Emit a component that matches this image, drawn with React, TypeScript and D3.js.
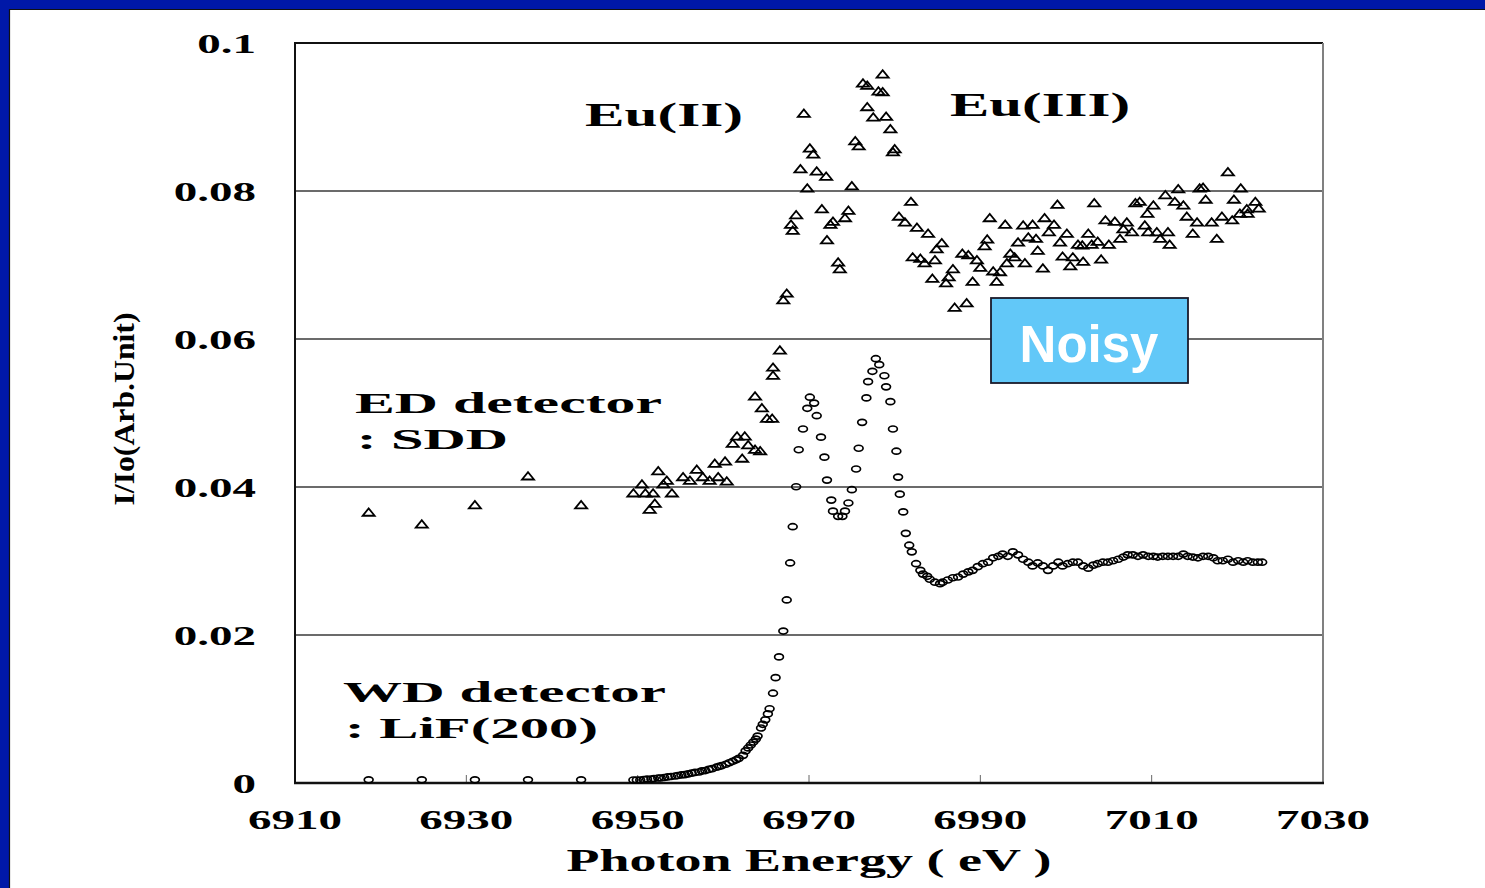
import React from "react";
import * as d3 from "d3";

// ---- Data ----
const xTicks = [6910, 6930, 6950, 6970, 6990, 7010, 7030];
const yTicks = [0, 0.02, 0.04, 0.06, 0.08, 0.1];
const yTickLabels = ["0", "0.02", "0.04", "0.06", "0.08", "0.1"];

// ED detector : SDD (triangles) [energy eV, I/Io]
const sddPoints: [number, number][] = [
  [6918.6, 0.0366], [6924.8, 0.035], [6931.0, 0.0376], [6937.2, 0.0415], [6943.4, 0.0376],
  [6949.5, 0.0392], [6950.5, 0.0404], [6950.9, 0.0392], [6951.4, 0.037], [6951.8, 0.0392],
  [6952.0, 0.0378], [6952.4, 0.0422], [6953.0, 0.0404], [6953.4, 0.0409], [6954.0, 0.0392],
  [6955.3, 0.0414], [6956.1, 0.0409], [6956.9, 0.0424], [6957.6, 0.0414], [6958.4, 0.0409],
  [6959.0, 0.0432], [6959.4, 0.0414], [6960.2, 0.0435], [6960.4, 0.0408], [6961.1, 0.0459],
  [6961.6, 0.0469], [6962.2, 0.0439], [6962.5, 0.0469], [6962.9, 0.0457], [6963.7, 0.0451],
  [6964.3, 0.0449], [6963.7, 0.0523], [6964.5, 0.0507], [6965.1, 0.0493], [6965.7, 0.0493],
  [6965.8, 0.0562], [6965.8, 0.0551], [6966.6, 0.0585],
  [6967.0, 0.0653], [6967.4, 0.0662], [6967.9, 0.0755], [6968.1, 0.0747], [6968.5, 0.0768],
  [6969.0, 0.083], [6969.4, 0.0905], [6969.8, 0.0804], [6970.1, 0.0858], [6970.5, 0.085],
  [6970.9, 0.0827], [6971.5, 0.0776], [6972.0, 0.082], [6972.1, 0.0734], [6972.5, 0.0755],
  [6972.8, 0.0759], [6973.4, 0.0704], [6973.6, 0.0695], [6974.2, 0.0764], [6974.6, 0.0774],
  [6975.0, 0.0807], [6975.4, 0.0868], [6975.8, 0.0861], [6976.3, 0.0946], [6976.8, 0.0943],
  [6976.8, 0.0914], [6977.5, 0.09], [6978.1, 0.0935], [6978.6, 0.0958], [6978.6, 0.0934],
  [6979.0, 0.0901], [6979.5, 0.0884], [6979.8, 0.0853], [6980.0, 0.0857], [6980.5, 0.0766],
  [6981.2, 0.0758], [6981.9, 0.0786], [6982.6, 0.0751], [6983.9, 0.0743], [6982.1, 0.0711],
  [6983.0, 0.0709], [6983.5, 0.0703], [6984.7, 0.0707], [6985.5, 0.073], [6984.9, 0.0722],
  [6986.8, 0.0695], [6986.3, 0.0684], [6986.0, 0.0676], [6984.4, 0.0682], [6989.1, 0.0678],
  [6991.9, 0.0678], [6987.0, 0.0643], [6988.4, 0.0649], [6987.9, 0.0716], [6988.6, 0.0714],
  [6989.6, 0.0707], [6990.0, 0.0697], [6991.5, 0.0692], [6992.3, 0.0691], [6990.8, 0.0735],
  [6990.5, 0.0726], [6991.1, 0.0764], [6992.9, 0.0755], [6995.0, 0.0754], [6996.1, 0.0755],
  [6997.5, 0.0764], [6998.6, 0.0755], [6998.0, 0.0745], [6999.0, 0.0782], [7003.3, 0.0784],
  [7000.1, 0.0743], [6999.3, 0.0731], [6994.4, 0.0731], [6995.6, 0.0738], [6996.5, 0.0736],
  [6993.5, 0.0716], [6994.0, 0.0711], [6993.1, 0.0703], [6995.2, 0.0703], [6996.7, 0.072],
  [6997.3, 0.0696], [6999.6, 0.0712], [7000.8, 0.0711], [7000.5, 0.0699], [7002.0, 0.0705],
  [7004.1, 0.0708], [7001.4, 0.0728], [7001.9, 0.0727], [7003.0, 0.0728], [7002.6, 0.0743],
  [7003.7, 0.0732], [7005.0, 0.0728], [7004.6, 0.0761], [7005.7, 0.0759], [7007.1, 0.0758],
  [7006.3, 0.0736], [7006.7, 0.0749], [7007.7, 0.0745], [7009.2, 0.0754], [7009.6, 0.0745],
  [7010.6, 0.0745], [7011.9, 0.0745], [7011.0, 0.0736], [7012.1, 0.0728], [7009.5, 0.077],
  [7008.1, 0.0784], [7008.6, 0.0786], [7010.2, 0.0781], [7011.6, 0.0795], [7013.1, 0.0803],
  [7012.7, 0.0786], [7013.7, 0.0781], [7014.1, 0.0766], [7014.8, 0.0743], [7015.3, 0.0758],
  [7015.6, 0.0804], [7016.0, 0.0805], [7016.3, 0.0789], [7017.0, 0.0758], [7018.2, 0.0766],
  [7017.6, 0.0736], [7019.4, 0.0761], [7019.6, 0.0789], [7020.4, 0.0804], [7020.3, 0.077],
  [7021.1, 0.0776], [7021.2, 0.077], [7022.1, 0.0786], [7022.5, 0.0777], [7018.9, 0.0826],
];

// WD detector : LiF(200) (circles) [energy eV, I/Io]
const lifPoints: [number, number][] = [
  [6918.6, 0.0003], [6924.8, 0.0003], [6931.0, 0.0003], [6937.2, 0.0003], [6943.4, 0.0003],
  [6949.5, 0.00027], [6949.9, 0.00027], [6950.3, 0.00027], [6950.7, 0.00034], [6951.1, 0.0004],
  [6951.6, 0.0004], [6951.9, 0.00047], [6952.4, 0.00054], [6952.7, 0.00054], [6953.1, 0.00061],
  [6953.5, 0.00068], [6953.9, 0.00074], [6954.4, 0.00081], [6954.7, 0.00088], [6955.1, 0.00095],
  [6955.5, 0.001], [6955.9, 0.0011], [6956.3, 0.0012], [6956.7, 0.0013], [6957.2, 0.00135],
  [6957.5, 0.0015], [6957.9, 0.00155], [6958.3, 0.0017], [6958.7, 0.0018], [6959.2, 0.002],
  [6959.5, 0.0021], [6959.8, 0.0022], [6960.3, 0.0024], [6960.7, 0.0026], [6961.1, 0.0028],
  [6961.5, 0.003], [6961.8, 0.0032], [6962.3, 0.0036], [6962.6, 0.0042], [6962.9, 0.0046],
  [6963.2, 0.005], [6963.5, 0.0054], [6963.8, 0.0058], [6964.0, 0.0062], [6964.4, 0.0073],
  [6964.6, 0.0078], [6964.9, 0.0084], [6965.2, 0.0092], [6965.4, 0.0099], [6965.8, 0.012],
  [6966.1, 0.0141], [6966.5, 0.0169], [6967.0, 0.0204], [6967.4, 0.0246], [6967.8, 0.0296],
  [6968.1, 0.0345], [6968.5, 0.0399], [6968.8, 0.0449], [6969.3, 0.0477], [6969.8, 0.0505],
  [6970.1, 0.052], [6970.6, 0.0512], [6970.9, 0.0495], [6971.4, 0.0466], [6971.8, 0.0439],
  [6972.1, 0.0408], [6972.6, 0.0381], [6972.8, 0.0366], [6973.4, 0.0359], [6973.9, 0.0359],
  [6974.2, 0.0366], [6974.6, 0.0377], [6975.0, 0.0395], [6975.5, 0.0423], [6975.8, 0.0451],
  [6976.2, 0.0486], [6976.7, 0.0519], [6976.9, 0.0541], [6977.4, 0.0555], [6977.8, 0.0572],
  [6978.2, 0.0564], [6978.8, 0.0549], [6979.0, 0.0534], [6979.5, 0.0514], [6979.8, 0.0477],
  [6980.2, 0.0447], [6980.4, 0.0412], [6980.6, 0.0389], [6981.0, 0.0365], [6981.3, 0.0336],
  [6981.7, 0.032], [6982.0, 0.0311], [6982.5, 0.0295], [6983.0, 0.0286], [6983.3, 0.0281],
  [6983.8, 0.0278], [6984.1, 0.0274], [6984.7, 0.027], [6985.3, 0.0268], [6985.6, 0.027],
  [6986.2, 0.0273], [6986.8, 0.0276], [6987.4, 0.0277], [6988.0, 0.0281], [6988.6, 0.0284],
  [6989.1, 0.0286], [6989.7, 0.0291], [6990.3, 0.0295], [6990.9, 0.0297], [6991.5, 0.0303],
  [6992.1, 0.0305], [6992.6, 0.0308], [6993.2, 0.0305], [6993.8, 0.0311], [6994.4, 0.0307],
  [6995.0, 0.0301], [6995.6, 0.0297], [6996.1, 0.0292], [6996.7, 0.0296], [6997.3, 0.0292],
  [6997.9, 0.0286], [6998.5, 0.0292], [6999.1, 0.0297], [6999.6, 0.0292], [7000.2, 0.0295],
  [7000.8, 0.0297], [7001.4, 0.0297], [7002.0, 0.0292], [7002.6, 0.0289], [7003.2, 0.0293],
  [7003.7, 0.0295], [7004.3, 0.0297], [7004.9, 0.0297], [7005.5, 0.0299], [7006.1, 0.0301],
  [7006.7, 0.0304], [7007.2, 0.0307], [7007.8, 0.0307], [7008.4, 0.0305], [7009.0, 0.0307],
  [7009.6, 0.0305], [7010.2, 0.0305], [7010.7, 0.0304], [7011.3, 0.0305], [7011.9, 0.0305],
  [7012.5, 0.0305], [7013.1, 0.0305], [7013.7, 0.0308], [7014.2, 0.0305], [7014.8, 0.0304],
  [7015.4, 0.0303], [7016.0, 0.0305], [7016.6, 0.0305], [7017.2, 0.0303], [7017.7, 0.0299],
  [7018.3, 0.0299], [7018.9, 0.0301], [7019.5, 0.0297], [7020.1, 0.0299], [7020.7, 0.0297],
  [7021.2, 0.0299], [7021.8, 0.0297], [7022.4, 0.0297], [7022.9, 0.0297],
];

const xTitle = "Photon Energy ( eV )";
const yTitle = "I/Io(Arb.Unit)";

// ---- Layout / style ----
const W = 1485;
const H = 888;
const PLOT = { left: 295, right: 1323, top: 43, bottom: 783 };
const BLUE = "#0018A8";
const SERIF = "'Liberation Serif', 'Times New Roman', serif";
const SANS = "'Liberation Sans', Arial, sans-serif";

export default function App() {
  const x = d3.scaleLinear().domain([6910, 7030]).range([PLOT.left, PLOT.right]);
  const y = d3.scaleLinear().domain([0, 0.1]).range([PLOT.bottom, PLOT.top]);

  const tri = (cx: number, cy: number) => {
    const p = d3.path();
    p.moveTo(cx - 6, cy + 3.6);
    p.lineTo(cx, cy - 3.8);
    p.lineTo(cx + 6, cy + 3.6);
    p.closePath();
    return p.toString();
  };

  const stretch = 1.68;

  return (
    <svg
      width={W}
      height={H}
      style={{ position: "absolute", left: 0, top: 0, display: "block", background: "#fff" }}
    >
      <rect x={0} y={0} width={W} height={H} fill="#fff" />
      {/* slide frame */}
      <rect x={0} y={0} width={W} height={9} fill={BLUE} />
      <rect x={0} y={0} width={9} height={H} fill={BLUE} />
      <line x1={9} y1={9.5} x2={W} y2={9.5} stroke="#111" strokeWidth={1.2} />
      <line x1={9.5} y1={9} x2={9.5} y2={H} stroke="#111" strokeWidth={1.2} />

      {/* gridlines */}
      {yTicks.filter((t) => t > 0 && t < 0.1).map((t) => (
        <line key={"g" + t} x1={PLOT.left} x2={PLOT.right} y1={y(t)} y2={y(t)} stroke="#3a3a3a" strokeWidth={1.3} />
      ))}

      {/* frame */}
      <line x1={PLOT.left} x2={PLOT.right} y1={PLOT.top} y2={PLOT.top} stroke="#111" strokeWidth={2} />
      <line x1={PLOT.right} x2={PLOT.right} y1={PLOT.top} y2={PLOT.bottom} stroke="#808080" strokeWidth={2} />
      <line x1={PLOT.left} x2={PLOT.left} y1={PLOT.top - 1} y2={PLOT.bottom} stroke="#111" strokeWidth={2} />

      {/* x ticks (inside) */}
      {xTicks.slice(1, -1).map((t) => (
        <line key={"xt" + t} x1={x(t)} x2={x(t)} y1={PLOT.bottom} y2={PLOT.bottom - 8} stroke="#666" strokeWidth={1} />
      ))}
      <line x1={PLOT.left - 1} x2={PLOT.right + 1} y1={PLOT.bottom} y2={PLOT.bottom} stroke="#111" strokeWidth={2.5} />

      {/* SDD triangles */}
      <g fill="none" stroke="#000" strokeWidth={1.8} strokeLinejoin="miter">
        {sddPoints.map(([e, v], i) => (
          <path key={"s" + i} d={tri(x(e), y(v))} />
        ))}
      </g>

      {/* LiF circles */}
      <g fill="none" stroke="#000" strokeWidth={1.7}>
        {lifPoints.map(([e, v], i) => (
          <ellipse key={"c" + i} cx={x(e)} cy={y(v) - 1} rx={4.4} ry={3} />
        ))}
      </g>

      {/* tick labels */}
      <g fontFamily={SERIF} fontWeight="bold" fontSize={28} fill="#000">
        {yTicks.map((t, i) => (
          <text key={"yl" + t} transform={`translate(256,${y(t) + 9.5}) scale(${stretch},1)`} textAnchor="end">
            {yTickLabels[i]}
          </text>
        ))}
        {xTicks.map((t) => (
          <text key={"xl" + t} transform={`translate(${x(t)},829) scale(${stretch},1)`} textAnchor="middle">
            {String(t)}
          </text>
        ))}
      </g>

      {/* axis titles */}
      <text
        x={x(6970)}
        y={871}
        textAnchor="middle"
        fontFamily={SERIF}
        fontWeight="bold"
        fontSize={32}
        textLength={485}
        lengthAdjust="spacingAndGlyphs"
      >
        {xTitle}
      </text>
      <text
        transform="translate(134,409) rotate(-90)"
        textAnchor="middle"
        fontFamily={SERIF}
        fontWeight="bold"
        fontSize={30}
        textLength={193}
        lengthAdjust="spacingAndGlyphs"
      >
        {yTitle}
      </text>

      {/* annotations */}
      <g fontFamily={SERIF} fontWeight="bold" fill="#000">
        <text x={585} y={126} fontSize={33} textLength={158} lengthAdjust="spacingAndGlyphs">Eu(II)</text>
        <text x={950} y={116} fontSize={33} textLength={180} lengthAdjust="spacingAndGlyphs">Eu(III)</text>
        <text x={355} y={413} fontSize={30} textLength={307} lengthAdjust="spacingAndGlyphs">ED detector</text>
        <text x={357} y={449} fontSize={30} textLength={151} lengthAdjust="spacingAndGlyphs">: SDD</text>
        <text x={343} y={702} fontSize={30} textLength={323} lengthAdjust="spacingAndGlyphs">WD detector</text>
        <text x={345} y={738} fontSize={30} textLength={253} lengthAdjust="spacingAndGlyphs">: LiF(200)</text>
      </g>

      {/* Noisy box */}
      <rect x={991} y={298} width={197} height={85} fill="#62C8F8" stroke="#1a1a2a" strokeWidth={1.8} />
      <text x={1089} y={362} textAnchor="middle" fontFamily={SANS} fontWeight="bold" fontSize={51} fill="#fff">
        Noisy
      </text>
    </svg>
  );
}
